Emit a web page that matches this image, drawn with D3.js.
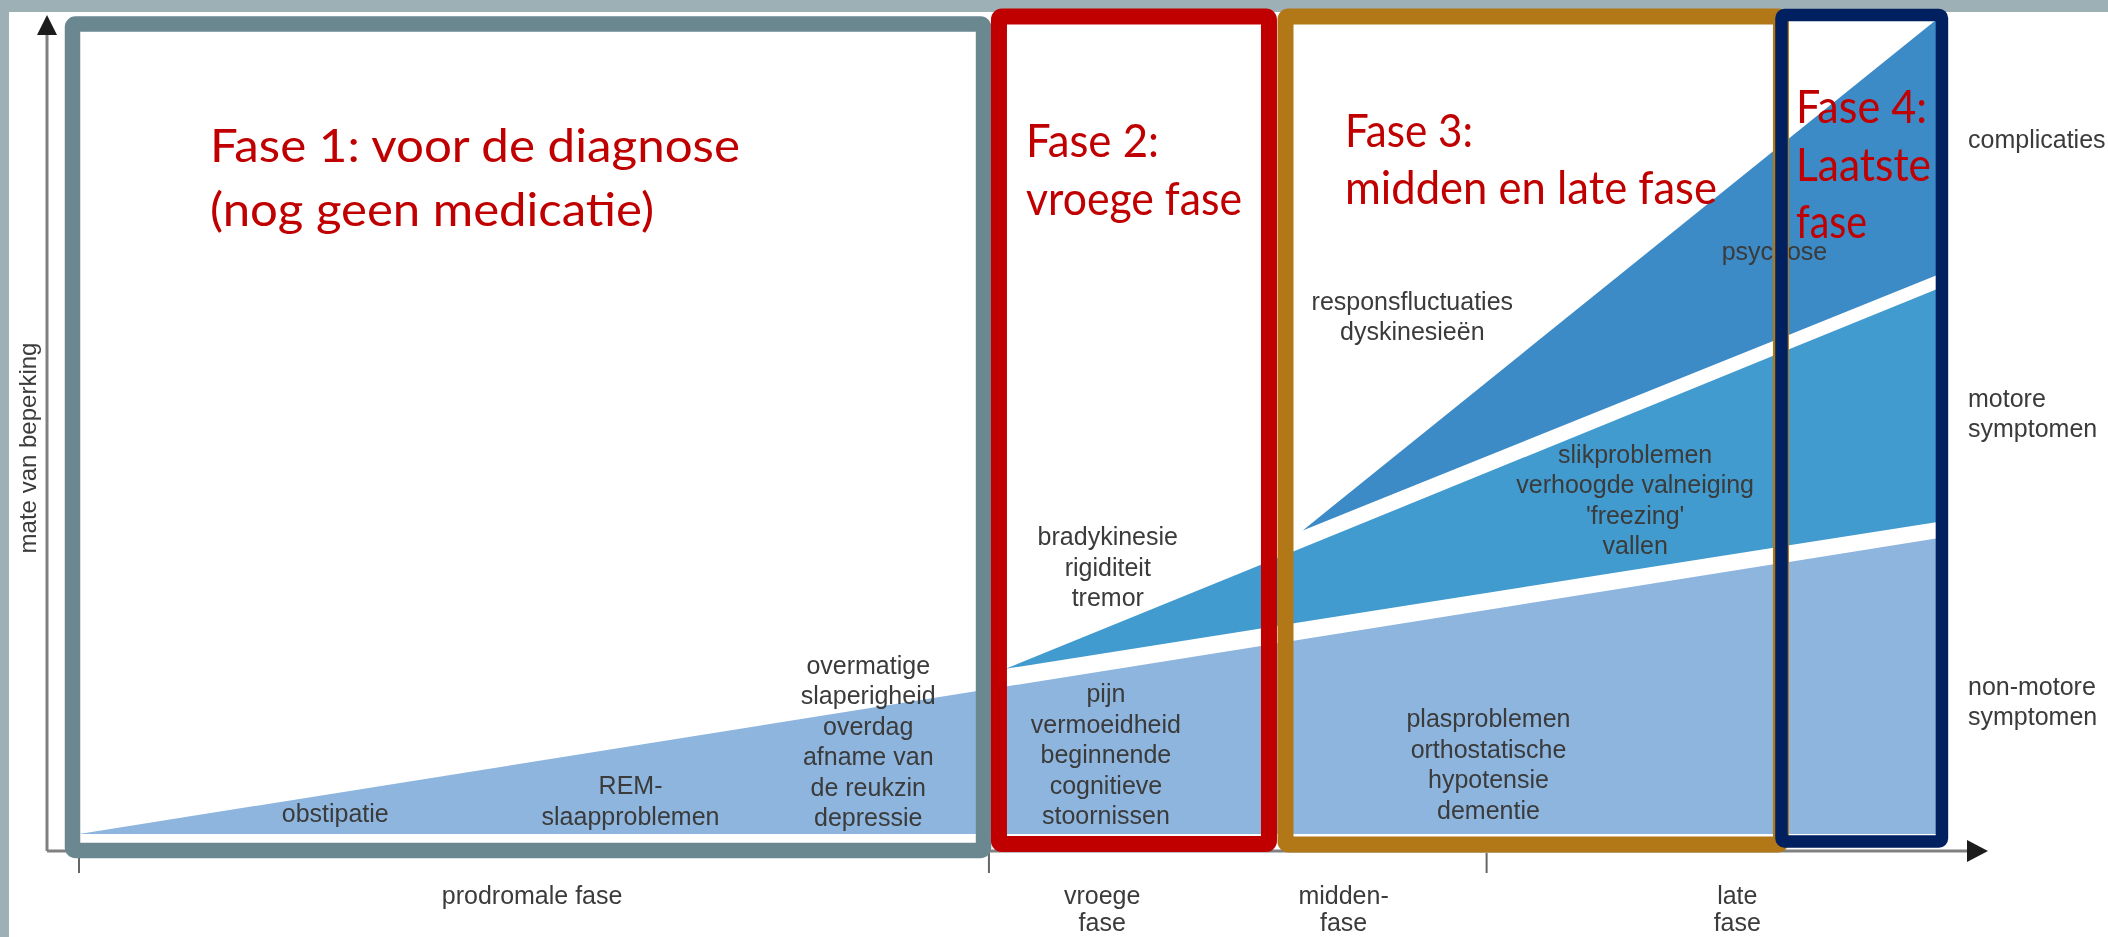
<!DOCTYPE html>
<html>
<head>
<meta charset="utf-8">
<script src="https://cdn.jsdelivr.net/npm/d3@7"></script>
<style>
  body { margin: 0; background: #fff; }
  svg { display: block; }
</style>
</head>
<body>
<svg id="chart" width="2108" height="937"></svg>
<script>
// ---- data: tijd (0-100) tegen mate van beperking (0-100) ----
const nonMotor = [
  {t: 0,   lo: 0, hi: 0},
  {t: 100, lo: 0, hi: 36.3}
];
const motor = [
  {t: 49.9, lo: 20.3, hi: 20.3},
  {t: 100,  lo: 38.3, hi: 66.9}
];
const complications = [
  {t: 65.9, lo: 37.3, hi: 37.3},
  {t: 100,  lo: 68.6, hi: 100}
];

const xTicks = [0, 49, 75.8];
const xLabels = [
  {lines: ["prodromale fase"], t: 24.4},
  {lines: ["vroege", "fase"], t: 55.1},
  {lines: ["midden-", "fase"], t: 68.1},
  {lines: ["late", "fase"], t: 89.3}
];
const bandLabels = [
  {lines: ["complicaties"], v: 84.3},
  {lines: ["motore", "symptomen"], v: 52.5},
  {lines: ["non-motore", "symptomen"], v: 17.1}
];
const symptoms = [
  {lines: ["obstipatie"], t: 13.8, v: 1.5},
  {lines: ["REM-", "slaapproblemen"], t: 29.7, v: 4.9},
  {lines: ["overmatige", "slaperigheid", "overdag", "afname van", "de reukzin", "depressie"], t: 42.5, v: 19.7},
  {lines: ["bradykinesie", "rigiditeit", "tremor"], t: 55.4, v: 35.5},
  {lines: ["pijn", "vermoeidheid", "beginnende", "cognitieve", "stoornissen"], t: 55.3, v: 16.2},
  {lines: ["responsfluctuaties", "dyskinesieën"], t: 71.8, v: 64.4},
  {lines: ["slikproblemen", "verhoogde valneiging", "'freezing'", "vallen"], t: 83.8, v: 45.6},
  {lines: ["plasproblemen", "orthostatische", "hypotensie", "dementie"], t: 75.9, v: 13.1},
  {lines: ["psychose"], t: 91.3, v: 70.5}
];

const phaseTitles = [
  ["Fase 1: voor de diagnose", "(nog geen medicatie)"],
  ["Fase 2:", "vroege fase"],
  ["Fase 3:", "midden en late fase"],
  ["Fase 4:", "Laatste", "fase"]
];
const phaseStart = [-0.35, 49.54, 64.97, 91.68];
const phaseEnd   = [48.71, 64.08, 91.65, 100.32];

// ---- layout / styles ----
const boxStyle = [
  {color: "#6b8891", width: 15.5, top: 24,   bottom: 850.5},
  {color: "#c00000", width: 16,   top: 16.5, bottom: 844},
  {color: "#b27717", width: 16,   top: 16.5, bottom: 844.5},
  {color: "#002060", width: 12.5, top: 15,   bottom: 841.5}
];
const titleLayout = [
  {x: 210,  y: 162, gap: 64, widths: [530, 444]},
  {x: 1026, y: 157, gap: 58, widths: [133, 216]},
  {x: 1345, y: 147, gap: 57, widths: [128, 372]},
  {x: 1796, y: 123, gap: 57.5, widths: [131, 135, 71]}
];

const svg = d3.select("#chart");
const W = 2108, H = 937;

const x = d3.scaleLinear().domain([0, 100]).range([79, 1936]);
const y = d3.scaleLinear().domain([0, 100]).range([834, 20]);

const defs = svg.append("defs");
defs.append("filter").attr("id", "soft")
  .append("feGaussianBlur").attr("stdDeviation", 0.55);

// slide background with frame edges
svg.append("rect").attr("width", W).attr("height", H).attr("fill", "#fff");
svg.append("rect").attr("x", 0).attr("y", 0).attr("width", W).attr("height", 12).attr("fill", "#9cb0b6");
svg.append("rect").attr("x", 0).attr("y", 0).attr("width", 9).attr("height", H).attr("fill", "#9cb0b6");

// stacked bands
const area = d3.area()
  .x(d => x(d.t))
  .y0(d => y(d.lo))
  .y1(d => y(d.hi));

const bands = [
  {data: nonMotor, fill: "#8db5de"},
  {data: motor, fill: "#419bce"},
  {data: complications, fill: "#3c8ac6"}
];
svg.append("g").selectAll("path")
  .data(bands).enter()
    .append("path")
      .attr("d", d => area(d.data))
      .attr("fill", d => d.fill);

// axes
const axisG = svg.append("g");
const xAxisY = 851;
axisG.append("line")
  .attr("x1", 47).attr("x2", 47).attr("y1", 30).attr("y2", xAxisY)
  .attr("stroke", "#808080").attr("stroke-width", 3);
axisG.append("line")
  .attr("x1", 47).attr("x2", 1970).attr("y1", xAxisY).attr("y2", xAxisY)
  .attr("stroke", "#808080").attr("stroke-width", 3);
axisG.append("path").attr("d", "M47,15 L37,35 L57,35 Z").attr("fill", "#1c1c1c");
axisG.append("path").attr("d", "M1988,851 L1967,840 L1967,862 Z").attr("fill", "#1c1c1c");

axisG.selectAll(".tick")
  .data(xTicks).enter()
    .append("line")
      .attr("class", "tick")
      .attr("x1", d => x(d)).attr("x2", d => x(d))
      .attr("y1", 853).attr("y2", 873)
      .attr("stroke", "#666").attr("stroke-width", 2);

const labelFont = "'Liberation Sans', Arial, Helvetica, sans-serif";
const lineH = 30.5;

function multiline(g, d, ax, ay, anchor, gap) {
  const t = g.append("text")
    .attr("x", ax).attr("y", ay)
    .attr("text-anchor", anchor)
    .attr("font-family", labelFont)
    .attr("font-size", 25)
    .attr("fill", "#3a3a3a");
  d.lines.forEach((s, i) => {
    t.append("tspan").attr("x", ax).attr("dy", i === 0 ? 0 : (gap || lineH)).text(s);
  });
}

const labelsG = svg.append("g").attr("filter", "url(#soft)");
symptoms.forEach(d => multiline(labelsG, d, x(d.t), y(d.v), "middle"));
xLabels.forEach(d => multiline(labelsG, d, x(d.t), 904, "middle", 27));
bandLabels.forEach(d => multiline(labelsG, d, 1968, y(d.v), "start"));

labelsG.append("text")
  .attr("transform", "translate(36,448) rotate(-90)")
  .attr("text-anchor", "middle")
  .attr("font-family", labelFont)
  .attr("font-size", 24)
  .attr("fill", "#3a3a3a")
  .text("mate van beperking");

// phase boxes
svg.append("g").selectAll("rect")
  .data(phaseStart.map((s, i) => ({s: s, e: phaseEnd[i], st: boxStyle[i]}))).enter()
    .append("rect")
      .attr("x", d => x(d.s))
      .attr("y", d => d.st.top)
      .attr("width", d => x(d.e) - x(d.s))
      .attr("height", d => d.st.bottom - d.st.top)
      .attr("rx", 3)
      .attr("fill", "none")
      .attr("stroke", d => d.st.color)
      .attr("stroke-width", d => d.st.width);

// phase titles
const titleG = svg.append("g")
  .attr("font-family", "Lato, 'Open Sans', sans-serif")
  .attr("font-size", 46)
  .attr("fill", "#c00000");
phaseTitles.forEach((lines, i) => {
  const L = titleLayout[i];
  lines.forEach((s, j) => {
    titleG.append("text")
      .attr("x", L.x)
      .attr("y", L.y + j * L.gap)
      .attr("textLength", L.widths[j])
      .attr("lengthAdjust", "spacingAndGlyphs")
      .text(s);
  });
});
</script>
</body>
</html>
